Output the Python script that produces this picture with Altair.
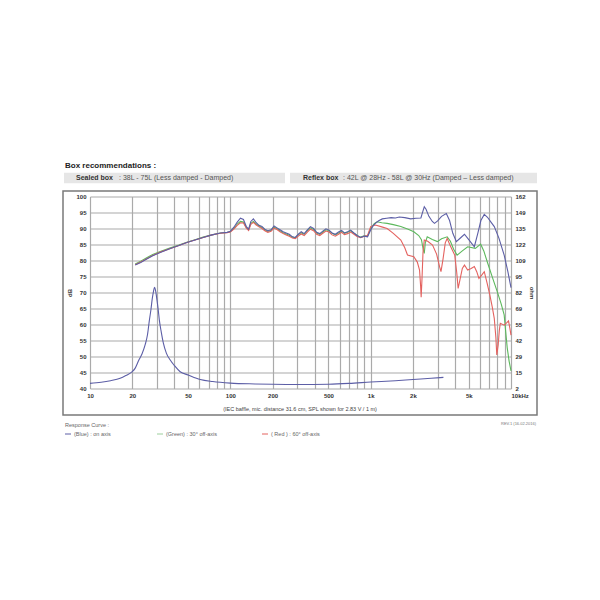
import altair as alt
import pandas as pd

# ---------------- data ----------------
freq_low = [21, 23, 25, 28, 32, 37, 43, 49, 56, 64, 74, 85, 95, 100, 106, 112, 118, 124,
            130, 135, 140, 146, 153, 160, 168, 176, 185, 195, 205, 215, 226, 238, 250, 263,
            277, 290, 305, 320, 336, 354, 372, 392, 412, 434, 456, 480, 505, 531, 560, 590,
            620, 650, 685, 720, 760, 800, 848, 900, 950]
blue_low = [78.6, 79.4, 80.3, 81.5, 82.6, 83.7, 84.7, 85.6, 86.4, 87.2, 88.0, 88.6, 88.8,
            89.1, 90.4, 92.0, 93.2, 92.8, 90.6, 89.8, 92.2, 93.0, 91.8, 91.0, 90.6, 89.8,
            89.3, 89.6, 90.8, 90.2, 89.6, 89.0, 88.6, 88.2, 87.4, 87.2, 88.2, 89.0, 88.4,
            89.6, 90.6, 90.0, 88.8, 88.4, 89.2, 89.9, 89.5, 88.6, 88.2, 88.9, 89.4, 88.6,
            89.0, 89.5, 88.6, 87.8, 87.2, 87.6, 87.4]
green_low = [78.9, 79.8, 80.7, 81.9, 82.9, 83.9, 84.8, 85.7, 86.5, 87.3, 88.0, 88.6, 88.8,
             89.0, 90.0, 91.4, 92.2, 92.0, 90.3, 89.6, 91.6, 92.2, 91.4, 90.8, 90.3, 89.6,
             89.1, 89.4, 90.4, 90.0, 89.3, 88.7, 88.3, 87.9, 87.3, 87.1, 88.0, 88.7, 88.2,
             89.3, 90.2, 89.7, 88.6, 88.2, 88.9, 89.6, 89.3, 88.5, 88.0, 88.6, 89.2, 88.5,
             88.8, 89.3, 88.5, 87.8, 87.3, 87.7, 87.6]
red_low = [78.7, 79.5, 80.4, 81.6, 82.7, 83.7, 84.7, 85.6, 86.4, 87.2, 88.0, 88.5, 88.7,
           88.9, 89.8, 91.0, 91.8, 91.7, 90.1, 89.4, 91.3, 91.9, 91.1, 90.5, 90.0, 89.3,
           88.8, 89.1, 90.1, 89.7, 89.0, 88.4, 88.0, 87.6, 87.0, 86.8, 87.6, 88.3, 87.8,
           88.9, 89.8, 89.3, 88.2, 87.8, 88.5, 89.2, 88.9, 88.0, 87.6, 88.2, 88.8, 88.1,
           88.4, 88.9, 88.2, 87.5, 87.1, 87.6, 87.8]

blue_hi_f = [1000, 1040, 1080, 1140, 1210, 1300, 1400, 1500, 1600, 1750, 1930, 2100, 2280,
             2360, 2410, 2480, 2600, 2750, 2850, 3000, 3200, 3460, 3650, 3850, 4080, 4300,
             4660, 5000, 5480, 5800, 6100, 6450, 6800, 7200, 7600, 8200, 8940, 9500, 10000]
blue_hi = [89.5, 90.8, 91.6, 92.4, 93.0, 93.2, 93.4, 93.3, 93.6, 93.4, 93.0, 93.2, 93.3,
           95.5, 96.8, 96.0, 93.8, 92.2, 91.6, 92.4, 93.8, 94.7, 92.5, 88.5, 85.9, 86.8,
           88.2, 86.5, 84.3, 88.5, 92.5, 94.4, 93.5, 92.0, 90.6, 87.0, 81.7, 76.5, 71.5]

green_hi_f = [1000, 1060, 1110, 1200, 1310, 1450, 1640, 1850, 2030, 2200, 2300, 2380, 2410,
              2450, 2530, 2750, 2990, 3200, 3510, 3700, 3900, 4130, 4500, 4910, 5570, 6080,
              6400, 6770, 7400, 7990, 8500, 8940, 9200, 9400, 9700, 10000]
green_hi = [90.0, 91.5, 92.1, 91.8, 91.6, 91.2, 90.6, 89.8, 89.0, 87.8, 86.5, 83.0, 82.2,
            85.5, 87.4, 86.6, 85.9, 86.8, 87.4, 86.0, 83.5, 81.7, 83.0, 84.3, 83.8, 85.1,
            83.0, 79.6, 74.5, 70.2, 66.5, 63.0, 57.0, 52.7, 48.5, 45.5]

red_hi_f = [1000, 1080, 1200, 1310, 1450, 1640, 1750, 1830, 2030, 2150, 2230, 2270, 2290,
            2320, 2360, 2410, 2550, 2760, 2950, 3100, 3170, 3280, 3400, 3510, 3700, 3970,
            4100, 4200, 4330, 4500, 4660, 4910, 5200, 5480, 5700, 5910, 6200, 6450, 6750,
            7070, 7350, 7600, 7800, 7920, 8100, 8250, 8390, 8940, 9300, 9600, 9800, 10000]
red_hi = [90.6, 91.1, 90.5, 90.0, 88.5, 86.4, 84.0, 81.7, 81.2, 79.5, 77.0, 72.0, 68.5,
          74.0, 82.5, 86.4, 86.0, 84.8, 82.0, 78.0, 76.5, 80.5, 85.5, 86.9, 84.5, 81.7,
          76.5, 71.3, 74.0, 77.5, 78.6, 77.0, 77.5, 78.1, 76.5, 74.4, 75.5, 76.5, 73.0,
          69.2, 65.5, 61.9, 56.0, 50.5, 53.5, 58.0, 60.4, 59.8, 60.5, 61.1, 59.0, 56.7]

imp_f = [10, 12, 14, 16.4, 18, 20, 21, 22.3, 23.5, 24.7, 25.7, 26.5, 27.2, 27.7, 28.3, 28.8,
         29.4, 30, 30.6, 31.2, 32.2, 33.3, 35, 37.3, 40, 43.9, 50, 61, 75, 100, 150, 200,
         300, 500, 700, 1000, 1500, 2000, 2700, 3300]
imp_ohm = [6.3, 7.2, 8.5, 10.5, 12.8, 16.0, 19.0, 25.7, 31.0, 38.3, 47.0, 59.0, 68.0, 75.8,
           82.5, 86.3, 83.0, 75.8, 68.0, 59.0, 49.0, 40.0, 31.5, 25.7, 21.0, 16.0, 13.3, 9.5,
           7.8, 6.5, 5.8, 5.5, 5.3, 5.6, 6.3, 7.4, 8.5, 9.5, 10.5, 11.3]

series_names = ["Green", "Red", "Blue"]
series_colors = ["#5cb85c", "#e4625f", "#5c5ea6"]

x_grid = [10, 20, 30, 40, 50, 60, 70, 80, 90, 100, 200, 300, 400, 500, 600, 700, 800, 900,
          1000, 2000, 3000, 4000, 5000, 6000, 7000, 8000, 9000, 10000]
x_labels = {10: "10", 20: "20", 50: "50", 100: "100", 200: "200", 500: "500",
            1000: "1k", 2000: "2k", 5000: "5k", 10000: "10kHz"}
db_ticks = list(range(40, 101, 5))
ohm_ticks = [2 + 160 * k / 12 for k in range(13)]

# ---------------- build tables (drawing order: green, red, blue on top) ----------------
rows = []
for name, fl, vl in [("Green", freq_low + green_hi_f, green_low + green_hi),
                     ("Red", freq_low + red_hi_f, red_low + red_hi),
                     ("Blue", freq_low + blue_hi_f, blue_low + blue_hi)]:
    for i, (f, v) in enumerate(zip(fl, vl)):
        rows.append({"f": f, "db": v, "s": name, "o": i})
spl = pd.DataFrame(rows)
imp = pd.DataFrame({"f": imp_f, "ohm": imp_ohm})
one = pd.DataFrame({"a": [0]})

FONT = "Liberation Sans"
GRID = "#aaaaaa"

label_expr = " : ".join(
    [f"datum.value == {k} ? '{v}'" for k, v in x_labels.items()]) + " : ''"

xscale = alt.Scale(type="log", domain=[10, 10000], nice=False)
xaxis = alt.Axis(values=x_grid, labelExpr=label_expr, grid=True, gridColor=GRID,
                 gridWidth=1.2, ticks=False, domain=False, labelFont=FONT,
                 labelFontSize=6, labelFontWeight="bold", labelColor="#333",
                 labelPadding=4, labelOverlap=False, labelFlush=False, title=None,
                 labelAlign={"condition": {"test": "datum.value == 10000", "value": "left"},
                             "value": "center"})

spl_chart = alt.Chart(spl).mark_line(strokeWidth=1.1).encode(
    x=alt.X("f:Q", scale=xscale, axis=xaxis),
    y=alt.Y("db:Q", scale=alt.Scale(domain=[40, 100], nice=False, zero=False),
            axis=alt.Axis(values=db_ticks, grid=True, gridColor=GRID, gridWidth=1.2,
                          ticks=False, domain=False, labelFont=FONT, labelFontSize=6,
                          labelFontWeight="bold", labelColor="#333", labelPadding=4,
                          title="dB", titleFont=FONT, titleFontSize=6,
                          titleFontWeight="bold", titleColor="#333",
                          titleX=-18, titleY=96)),
    color=alt.Color("s:N", scale=alt.Scale(domain=series_names, range=series_colors),
                    legend=None),
    order="o:Q",
)

imp_chart = alt.Chart(imp).mark_line(strokeWidth=1.1, color="#5c5ea6",
                                     interpolate="monotone").encode(
    x=alt.X("f:Q", scale=xscale, axis=xaxis),
    y=alt.Y("ohm:Q", scale=alt.Scale(domain=[2, 162], nice=False, zero=False),
            axis=alt.Axis(orient="right", values=ohm_ticks, format=".0f", grid=False,
                          ticks=False, domain=False, labelFont=FONT, labelFontSize=6,
                          labelFontWeight="bold", labelColor="#333", labelPadding=4,
                          title="ohm", titleFont=FONT, titleFontSize=6,
                          titleFontWeight="bold", titleColor="#333",
                          titleX=17, titleY=96)),
)

def txt(s, x, y, size=7, weight="normal", color="#333", align="left"):
    return alt.Chart(one).mark_text(font=FONT, fontSize=size, fontWeight=weight,
                                    color=color, align=align, baseline="middle").encode(
        x=alt.value(x), y=alt.value(y), text=alt.value(s))

def rect(x, x2, y, y2, fill=None, stroke=None, sw=1.0):
    kw = {}
    if fill is not None:
        kw["fill"] = fill
    else:
        kw["filled"] = False
    if stroke is not None:
        kw["stroke"] = stroke
        kw["strokeWidth"] = sw
    return alt.Chart(one).mark_rect(**kw).encode(
        x=alt.value(x), x2=alt.value(x2), y=alt.value(y), y2=alt.value(y2))

def hline(x, x2, y, color):
    return alt.Chart(one).mark_rule(color=color, strokeWidth=1).encode(
        x=alt.value(x), x2=alt.value(x2), y=alt.value(y))

decor = [
    rect(-27, 447, -5.5, 218.5, stroke="#7a7a7a", sw=1.5),
    rect(-26, 195, -23.8, -13.2, fill="#e6e6e6"),
    rect(200, 447, -23.8, -13.2, fill="#e6e6e6"),
    txt("Box  recommendations :", -25, -30.5, size=8, weight="bold", color="#222"),
    txt("Sealed box", -14, -18.5, size=7, weight="bold", color="#333"),
    txt(": 38L - 75L (Less damped - Damped)", 29, -18.5, size=7, color="#555"),
    txt("Reflex box", 213, -18.5, size=7, weight="bold", color="#333"),
    txt(": 42L @ 28Hz - 58L @ 30Hz (Damped \u2013 Less damped)", 253, -18.5, size=7,
        color="#555"),
    txt("(IEC baffle, mic. distance 31.6 cm, SPL shown for 2.83 V / 1 m)", 210, 212.5,
        size=5.5, color="#444", align="center"),
    txt("Response Curve :", -25, 228.5, size=5.5, color="#666"),
    hline(-25, -19, 237.5, "#5c5ea6"),
    txt("(Blue) : on axis", -16, 237.5, size=5.5, color="#666"),
    hline(67, 73, 237.5, "#9ccf9c"),
    txt("(Green) : 30\u00b0 off-axis", 76, 237.5, size=5.5, color="#666"),
    hline(172, 178, 237.5, "#e4625f"),
    txt("( Red ) : 60\u00b0 off-axis", 181, 237.5, size=5.5, color="#666"),
    txt("REV.1 (16.02.2016)", 446, 227, size=4, color="#777", align="right"),
]

chart = alt.layer(spl_chart, imp_chart, *decor).resolve_scale(y="independent").properties(
    width=421, height=192,
    autosize=alt.AutoSizeParams(type="none"),
    padding={"left": 82, "top": 188.5, "right": 81, "bottom": 203.5},
    background="white",
).configure_view(stroke=None)

chart.save("out.html", embed_options={"renderer": "svg", "actions": False})
